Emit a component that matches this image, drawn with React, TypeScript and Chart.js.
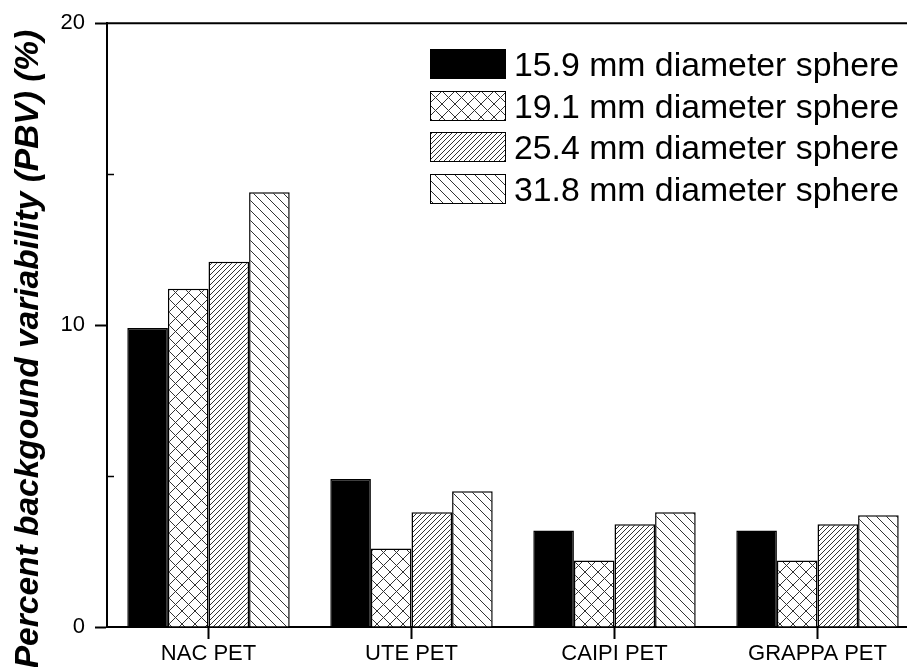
import React, { useEffect, useRef } from 'react';
import { Chart, registerables } from 'chart.js';
Chart.register(...registerables);

const categories = ['NAC PET', 'UTE PET', 'CAIPI PET', 'GRAPPA PET'];
const seriesLabels = [
  '15.9 mm diameter sphere',
  '19.1 mm diameter sphere',
  '25.4 mm diameter sphere',
  '31.8 mm diameter sphere',
];
const sphere159 = [9.9, 4.9, 3.2, 3.2];
const sphere191 = [11.2, 2.6, 2.2, 2.2];
const sphere254 = [12.1, 3.8, 3.4, 3.4];
const sphere318 = [14.4, 4.5, 3.8, 3.7];
const yMin = 0;
const yMax = 20;
const yStep = 5;
const yTitle = 'Percent backgound variability (PBV) (%)';

const FONT = '"Liberation Sans", Arial, Helvetica, sans-serif';

type Kind = 'solid' | 'cross' | 'fwd' | 'back';

function makeFill(kind: Kind): any {
  if (kind === 'solid') return '#000000';
  const p = kind === 'cross' ? 13 : kind === 'fwd' ? 5 : 10;
  const c = document.createElement('canvas');
  c.width = p;
  c.height = p;
  const g = c.getContext('2d')!;
  g.fillStyle = '#ffffff';
  g.fillRect(0, 0, p, p);
  g.strokeStyle = '#333333';
  g.lineWidth = 1;
  g.beginPath();
  for (let k = -1; k <= 1; k++) {
    if (kind === 'cross' || kind === 'fwd') {
      g.moveTo(k * p, p);
      g.lineTo(k * p + p, 0);
    }
    if (kind === 'cross' || kind === 'back') {
      g.moveTo(k * p, 0);
      g.lineTo(k * p + p, p);
    }
  }
  g.stroke();
  return g.createPattern(c, 'repeat');
}

const decorPlugin = {
  id: 'decor',
  afterDraw(chart: any) {
    const ctx = chart.ctx as CanvasRenderingContext2D;
    const { left, right, top } = chart.chartArea;
    const yScale = chart.scales.y;
    ctx.save();
    // top frame line
    ctx.strokeStyle = '#000';
    ctx.lineWidth = 2;
    ctx.beginPath();
    ctx.moveTo(left, top);
    ctx.lineTo(right, top);
    ctx.stroke();
    // minor inward ticks
    ctx.lineWidth = 1.5;
    for (let v = yMin; v <= yMax; v += yStep) {
      if (v % 10 === 0) continue;
      const y = Math.round(yScale.getPixelForValue(v)) + 0.5;
      ctx.beginPath();
      ctx.moveTo(left, y);
      ctx.lineTo(left + 7, y);
      ctx.stroke();
    }
    // legend
    const bx = 430;
    const bw = 76;
    const bh = 30;
    ctx.font = `33.8px ${FONT}`;
    ctx.textAlign = 'left';
    ctx.textBaseline = 'alphabetic';
    chart.data.datasets.forEach((ds: any, i: number) => {
      const by = Math.round(49 + i * 41.7);
      ctx.fillStyle = ds.backgroundColor;
      ctx.fillRect(bx, by, bw, bh);
      ctx.strokeStyle = '#000';
      ctx.lineWidth = 1;
      ctx.strokeRect(bx + 0.5, by + 0.5, bw - 1, bh - 1);
      ctx.fillStyle = '#000';
      ctx.fillText(ds.label, 514, by + 26.5);
    });
    // y title
    ctx.font = `italic bold 33.5px ${FONT}`;
    ctx.textAlign = 'center';
    ctx.textBaseline = 'alphabetic';
    ctx.translate(38, 349);
    ctx.rotate(-Math.PI / 2);
    ctx.fillStyle = '#000';
    ctx.fillText(yTitle, 0, 0);
    ctx.restore();
  },
};

export default function App() {
  const ref = useRef<HTMLCanvasElement | null>(null);
  useEffect(() => {
    if (!ref.current) return;
    const kinds: Kind[] = ['solid', 'cross', 'fwd', 'back'];
    const values = [sphere159, sphere191, sphere254, sphere318];
    const chart = new Chart(ref.current, {
      type: 'bar',
      data: {
        labels: categories,
        datasets: values.map((vals, i) => ({
          label: seriesLabels[i],
          data: vals,
          backgroundColor: makeFill(kinds[i]),
          borderColor: '#000000',
          borderWidth: 1.5,
          categoryPercentage: 0.8,
          barPercentage: 1.0,
        })),
      },
      options: {
        responsive: false,
        animation: false,
        devicePixelRatio: 1,
        layout: { padding: { top: 22, left: 0, right: 0, bottom: 0 } },
        plugins: { legend: { display: false }, tooltip: { enabled: false } },
        scales: {
          x: {
            grid: {
              offset: false,
              drawOnChartArea: false,
              tickLength: 12,
              tickWidth: 2,
              tickColor: '#000',
            },
            border: { color: '#000', width: 2 },
            ticks: {
              color: '#000',
              font: { family: FONT, size: 22 },
              padding: 2,
              maxRotation: 0,
              autoSkip: false,
            },
            afterFit: (s: any) => {
              s.height = 40;
            },
          },
          y: {
            min: yMin,
            max: yMax,
            ticks: {
              stepSize: yStep,
              callback: (v: any) => (Number(v) % 10 === 0 ? String(v) : ''),
              color: '#000',
              font: { family: FONT, size: 22 },
              padding: 10,
            },
            grid: {
              drawOnChartArea: false,
              tickLength: 12,
              tickWidth: 2,
              tickColor: (c: any) => (c.tick && c.tick.value % 10 === 0 ? '#000' : 'rgba(0,0,0,0)'),
            },
            border: { color: '#000', width: 2 },
            afterFit: (s: any) => {
              s.width = 107;
            },
          },
        },
      },
      plugins: [decorPlugin],
    });
    return () => chart.destroy();
  }, []);
  return (
    <div
      style={{
        position: 'fixed',
        left: 0,
        top: 0,
        width: 907,
        height: 667,
        overflow: 'hidden',
        background: '#fff',
      }}
    >
      <canvas ref={ref} width={919} height={667} style={{ display: 'block', width: 919, height: 667 }} />
    </div>
  );
}
